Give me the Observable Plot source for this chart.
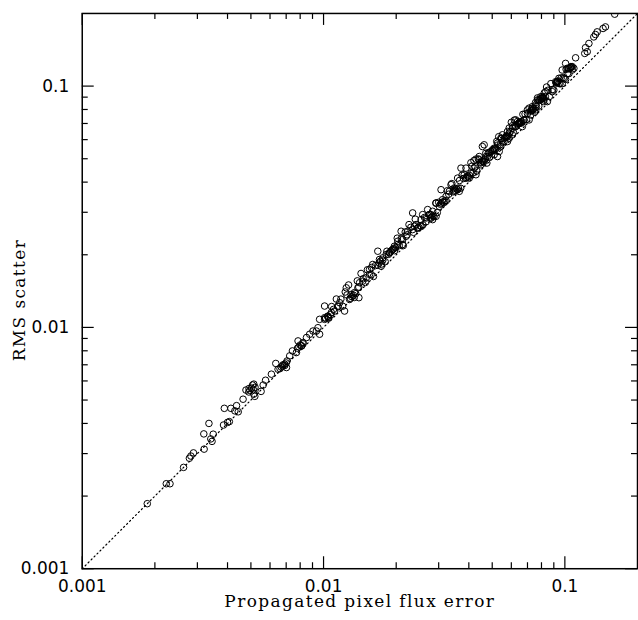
<!DOCTYPE html>
<html><head><meta charset="utf-8">
<script src="https://cdn.jsdelivr.net/npm/d3@7"></script>
<script src="https://cdn.jsdelivr.net/npm/@observablehq/plot@0.6"></script>
<style>html,body{margin:0;padding:0;background:#fff;overflow:hidden;} #chart svg{display:block;}</style>
</head><body><div id="chart"></div>
<script>
// Propagated pixel flux error (x) and RMS scatter (y)
const propError = [
0.00186,0.00223,0.00231,0.00263,0.00278,0.00282,0.00289,0.00320,0.00319,0.00335,
0.00341,0.00345,0.00349,0.00385,0.00400,0.00407,0.00388,0.00413,0.00429,0.00436,
0.00443,0.00464,0.00477,0.00491,0.00508,0.00514,0.00519,0.00551,0.00562,0.00575,
0.00514,0.00608,0.00634,0.00648,0.00676,0.00691,0.00706,0.00702,0.00724,0.00743,
0.00772,0.00784,0.00809,0.00822,0.00850,0.00876,0.00904,0.00934,0.00963,0.00948,
0.01010,0.00963,0.01010,0.01043,0.01077,0.01111,0.01147,0.01166,0.01222,0.01242,
0.01282,0.01302,0.01343,0.01401,0.01388,0.01410,0.01454,0.01502,0.01551,0.01576,
0.01599,0.01678,0.01705,0.01733,0.01759,0.01818,0.01876,0.01935,0.01966,0.02030,
0.02096,0.02128,0.02199,0.02233,0.02340,0.02379,0.02456,0.02536,0.02575,0.02660,
0.02789,0.02831,0.02926,0.02030,0.02128,0.02340,0.02418,0.02745,0.02831,0.02926,
0.03019,0.03068,0.03113,0.03218,0.03321,0.03374,0.03480,0.03594,0.03652,0.03711,
0.03828,0.03892,0.04017,0.04081,0.04210,0.04281,0.04418,0.04489,0.04630,0.04630,
0.04781,0.04937,0.05092,0.05258,0.05429,0.05510,0.05600,0.05783,0.05877,0.06060,
0.06160,0.06263,0.06464,0.06665,0.06996,0.07109,0.07330,0.07576,0.07694,0.07945,
0.08195,0.08462,0.08867,0.09163,0.09456,0.09748,0.1007,0.1040,0.1073,
0.1609,0.1473,0.1440,0.1361,0.1339,0.1318,0.1258,0.1218,0.1238,0.1209,
0.1108,0.1022,0.1090,0.1073,0.1040,0.1007,0.09305,0.08333,0.08063,0.07800,
0.08195,0.07109,0.07330,0.07576,0.07222,0.06775,0.06363,0.06588,0.06263,0.06060,
0.05877,0.05690,0.05429,0.05783,0.05258,0.04552,0.05010,0.05344,0.04859,0.05092,
0.04418,0.04706,0.04281,
0.00495,0.00503,0.00512,0.00490,0.00520,
0.00668,0.00680,0.00690,0.00660,0.00700,
0.00790,0.00800,0.00812,0.00780,0.00822,
0.0102,0.0104,0.0105,0.0101,0.0107,
0.0131,0.0133,0.0134,0.0129,0.0136,
0.0170,0.0172,0.0174,0.0168,0.0176,
0.0192,0.0195,0.0197,0.0190,0.0199,0.0188,
0.0248,0.0251,0.0254,0.0245,0.0258,
0.0280,0.0284,0.0287,0.0278,
0.0308,0.0312,0.0315,0.0305,0.0318,
0.0352,0.0356,0.0359,0.0349,0.0362,
0.0391,0.0395,0.0398,0.0388,0.0402,
0.0451,0.0455,0.0458,0.0447,0.0462,
0.0505,0.0510,0.0514,0.0500,0.0518,
0.0568,0.0573,0.0577,0.0562,0.0582,
0.0642,0.0648,0.0652,0.0637,0.0658,
0.0727,0.0733,0.0737,0.0720,0.0742,
0.0800,0.0806,0.0810,0.0795,
0.0925,0.0930,0.0934,0.0920,0.0938,
0.1055,0.1060,0.1065,0.1050,
0.0105,0.0108,0.0110,0.0113,0.0115,0.0118,0.0120,0.0123,0.0125,0.0127,
0.0138,0.0140,0.0143,0.0146,0.0149,0.0152,0.0155,0.0158,0.0161,0.0164,
0.0180,0.0183,0.0186,0.0202,0.0206,0.0210,0.0214,0.0218,0.0222,0.0226,
0.0230,0.0236,0.0240,0.0262,0.0266,0.0270,0.0274,0.0292,0.0296,0.0300,
0.0322,0.0326,0.0330,0.0340,0.0344,0.0366,0.0370,0.0375,0.0380,0.0408,
0.0412,0.0416,0.0420,0.0425,0.0432,0.0438,0.0466,0.0470,0.0475,0.0482,
0.0488,0.0522,0.0528,0.0532,0.0540,0.0546,0.0552,0.0588,0.0594,0.0600,
0.0606,0.0612,0.0618,0.0626,0.0664,0.0670,0.0676,0.0684,0.0692,0.0700,
0.0750,0.0756,0.0762,0.0770,0.0780,0.0786,0.0815,0.0822,0.0830,0.0840,
0.0850,0.0862,0.0875,0.0888,0.0900,0.0945,0.0955,0.0965,0.0975,0.0985,
0.0995,0.1012,0.1025,0.1035
];
const rmsScatter = [
0.00186,0.00225,0.00225,0.00263,0.00287,0.00293,0.00302,0.00313,0.00362,0.00400,
0.00345,0.00337,0.00361,0.00394,0.00404,0.00407,0.00462,0.00462,0.00451,0.00474,
0.00447,0.00504,0.00550,0.00558,0.00577,0.00529,0.00518,0.00543,0.00577,0.00604,
0.00582,0.00640,0.00709,0.00671,0.00693,0.00704,0.00726,0.00682,0.00762,0.00799,
0.00787,0.00879,0.00838,0.00866,0.00908,0.00937,0.00966,0.00966,0.00937,0.00997,
0.01226,0.01080,0.01097,0.01114,0.01152,0.01169,0.01226,0.01266,0.01169,0.01459,
0.01306,0.01370,0.01393,0.01328,0.01459,0.01532,0.01555,0.01605,0.01738,0.01657,
0.01823,0.02069,0.01912,0.01793,0.01942,0.02005,0.02038,0.02102,0.02169,0.02205,
0.02503,0.02312,0.02386,0.02503,0.02982,0.02624,0.02583,0.02797,0.02934,0.02841,
0.02934,0.02797,0.03280,0.02276,0.02205,0.02543,0.02668,0.02934,0.03028,0.02886,
0.03174,0.03721,0.03383,0.03491,0.03663,0.03903,0.03780,0.04157,0.03663,0.04572,
0.04293,0.04572,0.04157,0.04364,0.04572,0.04293,0.04950,0.04721,0.05711,0.04873,
0.05107,0.05359,0.05530,0.05107,0.05617,0.06282,0.05894,0.06483,0.06082,0.06282,
0.06795,0.07243,0.07022,0.06795,0.07967,0.07243,0.08103,0.08357,0.08762,0.09039,
0.08899,0.08624,0.09483,0.1043,0.1026,0.1166,0.1242,0.1185,0.1204,
0.1986,0.1759,0.1733,0.1678,0.1636,0.1599,0.1502,0.1443,0.1388,0.1366,
0.1310,0.1185,0.1185,0.1166,0.1127,0.1066,0.1043,0.09483,0.09039,0.08762,
0.08762,0.08103,0.08219,0.07967,0.07598,0.07243,0.07130,0.07022,0.06795,0.06690,
0.06385,0.06180,0.06082,0.05894,0.05806,0.05617,0.05444,0.05359,0.05278,0.05193,
0.05107,0.05107,0.04982,
0.00548,0.00560,0.00552,0.00540,0.00565,
0.00685,0.00700,0.00695,0.00675,0.00712,
0.00830,0.00845,0.00838,0.00820,0.00855,
0.0109,0.0111,0.0110,0.0108,0.0113,
0.0134,0.0136,0.0133,0.0132,0.0138,
0.0185,0.0188,0.0183,0.0181,0.0190,
0.0209,0.0212,0.0208,0.0206,0.0214,0.0204,
0.0260,0.0264,0.0262,0.0258,0.0266,
0.0286,0.0290,0.0288,0.0283,
0.0327,0.0331,0.0329,0.0324,0.0334,
0.0370,0.0375,0.0372,0.0367,0.0378,
0.0418,0.0424,0.0420,0.0415,0.0427,
0.0483,0.0490,0.0486,0.0480,0.0494,
0.0541,0.0548,0.0544,0.0538,0.0552,
0.0612,0.0620,0.0615,0.0608,0.0625,
0.0700,0.0708,0.0703,0.0696,0.0712,
0.0792,0.0800,0.0795,0.0788,0.0805,
0.0888,0.0896,0.0891,0.0884,
0.1035,0.1045,0.1040,0.1030,0.1050,
0.1195,0.1205,0.1198,0.1190,
0.01092,0.01220,0.01188,0.01311,0.01219,0.01310,0.01224,0.01402,0.01363,0.01499,
0.01559,0.01470,0.01673,0.01591,0.01535,0.01733,0.01659,0.01770,0.01626,0.01804,
0.01872,0.02068,0.02009,0.02343,0.02184,0.02331,0.02183,0.02485,0.02420,0.02667,
0.02599,0.02478,0.02808,0.02856,0.02740,0.03078,0.02932,0.03270,0.02990,0.03300,
0.03349,0.03684,0.03564,0.03944,0.03646,0.04063,0.03774,0.04275,0.04142,0.04814,
0.04656,0.04368,0.04914,0.04633,0.04450,0.04993,0.04986,0.05264,0.04798,0.05302,
0.05075,0.05899,0.05702,0.06171,0.05724,0.06061,0.05851,0.06703,0.06475,0.07080,
0.06848,0.06426,0.07231,0.06823,0.07105,0.07638,0.07233,0.07661,0.07266,0.07700,
0.07800,0.08543,0.08230,0.08932,0.08268,0.08725,0.08639,0.09371,0.09047,0.09912,
0.09605,0.09051,0.10238,0.09679,0.09630,0.10773,0.10219,0.10808,0.10238,0.10835,
0.10746,0.11739,0.11275,0.11799
];
const axisDomain = [0.001, 0.2];
const majorTicks = [0.001, 0.01, 0.1];
const tickLabels = ["0.001", "0.01", "0.1"];
const minorTicks = [0.002,0.003,0.004,0.005,0.006,0.007,0.008,0.009,
                    0.02,0.03,0.04,0.05,0.06,0.07,0.08,0.09];
const unityLine = [0.001, 0.2];
const xTitle = "Propagated pixel flux error";
const yTitle = "RMS scatter";

const points = propError.map((x, i) => ({x, y: rmsScatter[i]}));
const unity = unityLine.map(v => ({x: v, y: v}));

const W = 640, H = 620, mL = 82, mR = 1, mT = 13, mB = 50;
const pw = W - mL - mR, ph = H - mT - mB;
const majorLen = 12, minorLen = 6;
const tickStyle = {stroke: "black", strokeWidth: 1.2};
const fmt = d => tickLabels[majorTicks.indexOf(d)];

const chart = Plot.plot({
  width: W, height: H,
  marginLeft: mL, marginRight: mR, marginTop: mT, marginBottom: mB,
  x: {type: "log", domain: axisDomain},
  y: {type: "log", domain: axisDomain},
  style: {fontFamily: "DejaVu Sans", fontSize: "17px", background: "white", color: "black"},
  marks: [
    Plot.line(unity, {x: "x", y: "y", stroke: "black", strokeWidth: 1.2, strokeDasharray: "1.2,3", strokeLinecap: "round"}),
    Plot.dot(points, {x: "x", y: "y", r: 3.3, stroke: "black", strokeWidth: 1, fill: "none", clip: true}),
    // bottom & top ticks
    Plot.ruleX(majorTicks, {x: d => d, insetTop: ph - majorLen, ...tickStyle}),
    Plot.ruleX(minorTicks, {x: d => d, insetTop: ph - minorLen, ...tickStyle}),
    Plot.ruleX(majorTicks, {x: d => d, insetBottom: ph - majorLen, ...tickStyle}),
    Plot.ruleX(minorTicks, {x: d => d, insetBottom: ph - minorLen, ...tickStyle}),
    // left & right ticks
    Plot.ruleY(majorTicks, {y: d => d, insetRight: pw - majorLen, ...tickStyle}),
    Plot.ruleY(minorTicks, {y: d => d, insetRight: pw - minorLen, ...tickStyle}),
    Plot.ruleY(majorTicks, {y: d => d, insetLeft: pw - majorLen, ...tickStyle}),
    Plot.ruleY(minorTicks, {y: d => d, insetLeft: pw - minorLen, ...tickStyle}),
    Plot.frame({stroke: "black", strokeWidth: 1.5}),
    Plot.axisX({ticks: majorTicks, tickSize: 0, tickPadding: 11, tickFormat: fmt, label: null, fontSize: 17}),
    Plot.axisY({ticks: majorTicks, tickSize: 0, tickPadding: 13, tickFormat: fmt, label: null, fontSize: 17}),
    Plot.text([xTitle], {frameAnchor: "bottom", dy: 38, lineAnchor: "bottom", textAnchor: "middle", fontFamily: "DejaVu Serif", fontSize: 17, fill: "black"}),
    Plot.text([yTitle], {frameAnchor: "left", dx: -57, dy: 9, rotate: -90, lineAnchor: "bottom", textAnchor: "middle", fontFamily: "DejaVu Serif", fontSize: 17, fill: "black"})
  ]
});
document.getElementById("chart").appendChild(chart);
d3.select(chart).selectAll("text").filter(function() {
  const t = this.textContent; return t === xTitle || t === yTitle;
}).style("letter-spacing", "1.4px");
</script>
</body></html>
